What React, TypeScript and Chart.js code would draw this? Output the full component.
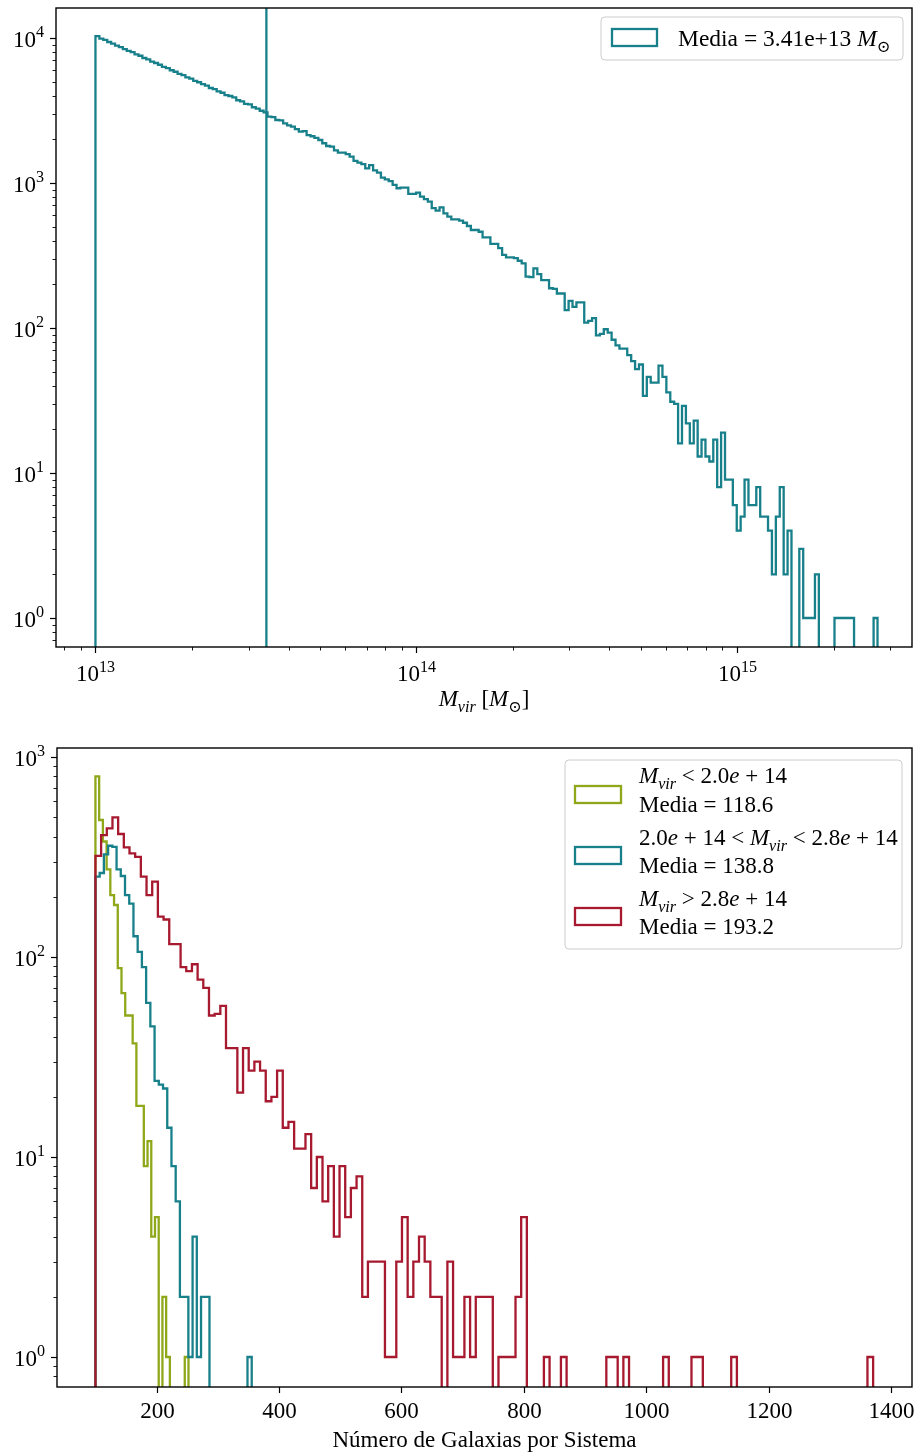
import React, { useEffect, useRef } from 'react';
import { Chart, registerables } from 'chart.js';

Chart.register(...registerables);

const FONT = '"Liberation Serif", "DejaVu Serif", "Times New Roman", serif';
const FS = 23;

const TEAL = '#17808a';
const GREEN = '#8fa81a';
const RED = '#a7192f';

// ---------------- top panel: virial mass histogram ----------------
const massLogMin = 13.0;
const massLogMax = 15.4375;
const massCounts = [
  10310, 9900, 9700, 9380, 9150, 8850, 8660, 8380, 8150, 7980,
  7700, 7540, 7280, 7130, 6880, 6720, 6540, 6330, 6200, 5990,
  5850, 5660, 5540, 5350, 5240, 5060, 4950, 4800, 4700, 4520,
  4440, 4280, 4190, 4040, 3980, 3900, 3720, 3650, 3510, 3490,
  3330, 3260, 3150, 3070, 2870, 2850, 2720, 2700, 2580, 2500,
  2450, 2350, 2260, 2280, 2140, 2100, 2050, 1980, 1880, 1800,
  1780, 1680, 1620, 1620, 1580, 1520, 1420, 1380, 1350, 1260,
  1330, 1220, 1180, 1090, 1060, 1030, 970, 920, 930, 930,
  840, 840, 857, 805, 773, 743, 670, 645, 680, 618,
  586, 562, 562, 550, 532, 505, 474, 474, 461, 422,
  422, 380, 380, 355, 319, 307, 307, 303, 291, 279,
  226, 224, 258, 235, 214, 214, 188, 186, 173, 173,
  133, 154, 140, 150, 150, 109, 112, 117, 89, 91,
  98, 93, 83, 76, 72, 72, 65, 59, 52, 56,
  34, 46, 42, 42, 55, 46, 36, 31, 30, 16,
  29, 22, 16, 23, 13, 17, 13, 12, 17, 8,
  19, 9, 9, 6, 4, 5, 9, 6, 6, 8,
  5, 5, 4, 2, 5, 8, 2, 4, 0, 0,
  3, 1, 1, 1, 2, 0, 0, 0, 0, 1,
  1, 1, 1, 1, 0, 0, 0, 0, 0, 1,
];
const meanMass = 3.41e13;
const meanText = 'Media = 3.41e+13 ';
const massAxisLog = [12.877, 15.545];
const topCountRange = [0.631, 16100];

// ---------------- bottom panel: galaxies per system ----------------
const galMin = 100;
const greenMax = 252.0;
const tealMax = 355.3;
const redMax = 1370.5;
const greenCounts = [800, 484, 378, 274, 204, 182, 88, 66, 51, 51, 37, 18, 18, 9, 12, 4, 5, 0, 2, 1, 0, 0, 0, 0, 1];
const tealCounts = [
  252, 263, 326, 360, 355, 274, 254, 204, 185, 127,
  106, 89, 59, 45, 24, 23, 22, 14, 9, 6,
  2, 2, 1, 4, 1, 2, 2, 0, 0, 0,
  0, 0, 0, 0, 0, 0, 1,
];
const redCounts = [
  320, 407, 440, 499, 412, 353, 330, 317, 252, 204,
  238, 159, 154, 116, 116, 89, 85, 92, 77, 70,
  51, 52, 57, 35, 35, 21, 35, 27, 30, 27,
  19, 20, 27, 14, 15, 11, 11, 13, 7, 10,
  6, 9, 4, 9, 5, 7, 8, 2, 3, 3,
  3, 1, 1, 3, 5, 2, 3, 4, 3, 2,
  2, 0, 3, 1, 1, 2, 1, 2, 2, 2,
  0, 1, 1, 1, 2, 5, 0, 0, 0, 1,
  0, 0, 1, 0, 0, 0, 0, 0, 0, 0,
  1, 1, 0, 1, 0, 0, 0, 0, 0, 0,
  1, 0, 0, 0, 0, 1, 1, 0, 0, 0,
  0, 0, 1, 0, 0, 0, 0, 0, 0, 0,
  0, 0, 0, 0, 0, 0, 0, 0, 0, 0,
  0, 0, 0, 0, 0, 0, 1,
];
const greenLabel = ['< 2.0', '118.6'];
const tealLabel = ['2.0', '< 2.8', '138.8'];
const redLabel = ['> 2.8', '193.2'];
const galTicks = [200, 400, 600, 800, 1000, 1200, 1400];
const galAxisRange = [37.2, 1434];
const bottomCountRange = [0.708, 1109];

// ---------------- helpers ----------------
type Seg = { t: string; it?: boolean; sub?: boolean; sup?: boolean };

function fontFor(size: number, it?: boolean) {
  return `${it ? 'italic ' : ''}${size}px ${FONT}`;
}

function drawRich(ctx: CanvasRenderingContext2D, segs: Seg[], x: number, y: number, align: 'left' | 'center' | 'right', size = FS) {
  const sizes = segs.map((s) => (s.sub || s.sup ? size * 0.7 : size));
  const widths = segs.map((s, i) => {
    ctx.font = fontFor(sizes[i], s.it);
    return ctx.measureText(s.t).width;
  });
  const total = widths.reduce((a, b) => a + b, 0);
  let cx = align === 'left' ? x : align === 'center' ? x - total / 2 : x - total;
  ctx.textAlign = 'left';
  ctx.textBaseline = 'alphabetic';
  ctx.fillStyle = '#000';
  segs.forEach((s, i) => {
    ctx.font = fontFor(sizes[i], s.it);
    const dy = s.sub ? size * 0.24 : s.sup ? -size * 0.4 : 0;
    ctx.fillText(s.t, cx, y + dy);
    cx += widths[i];
  });
}

function logTicks(min: number, max: number) {
  const out: { v: number; major: boolean; e: number }[] = [];
  for (let e = Math.floor(Math.log10(min)) - 1; e <= Math.ceil(Math.log10(max)); e++) {
    for (let m = 1; m <= 9; m++) {
      const v = m * Math.pow(10, e);
      if (v >= min * 0.99999 && v <= max * 1.00001) out.push({ v, major: m === 1, e });
    }
  }
  return out;
}

function seg(ctx: CanvasRenderingContext2D, x1: number, y1: number, x2: number, y2: number) {
  ctx.beginPath();
  ctx.moveTo(x1, y1);
  ctx.lineTo(x2, y2);
  ctx.stroke();
}

function roundBox(ctx: CanvasRenderingContext2D, x: number, y: number, w: number, h: number, r: number) {
  ctx.beginPath();
  ctx.moveTo(x + r, y);
  ctx.lineTo(x + w - r, y);
  ctx.arcTo(x + w, y, x + w, y + r, r);
  ctx.lineTo(x + w, y + h - r);
  ctx.arcTo(x + w, y + h, x + w - r, y + h, r);
  ctx.lineTo(x + r, y + h);
  ctx.arcTo(x, y + h, x, y + h - r, r);
  ctx.lineTo(x, y + r);
  ctx.arcTo(x, y, x + r, y, r);
  ctx.closePath();
  ctx.fillStyle = 'rgba(255,255,255,0.85)';
  ctx.fill();
  ctx.strokeStyle = '#cccccc';
  ctx.lineWidth = 1;
  ctx.stroke();
}

function linEdges(lo: number, hi: number, n: number) {
  return Array.from({ length: n + 1 }, (_, k) => lo + ((hi - lo) * k) / n);
}
function logEdges(lo: number, hi: number, n: number) {
  return Array.from({ length: n + 1 }, (_, k) => Math.pow(10, lo + ((hi - lo) * k) / n));
}

const FLOOR = 1e-3;
function stepPoints(edges: number[], counts: number[]) {
  const pts = [{ x: edges[0], y: FLOOR }];
  counts.forEach((c, i) => pts.push({ x: edges[i], y: c > 0 ? c : FLOOR }));
  const last = counts[counts.length - 1];
  pts.push({ x: edges[edges.length - 1], y: last > 0 ? last : FLOOR });
  pts.push({ x: edges[edges.length - 1], y: FLOOR });
  return pts;
}

const LINE_W = 2.3;

function histDataset(pts: { x: number; y: number }[], color: string) {
  return {
    data: pts,
    borderColor: color,
    borderWidth: LINE_W,
    pointRadius: 0,
    pointHoverRadius: 0,
    fill: false,
    stepped: true,
    tension: 0,
    borderJoinStyle: 'miter',
    borderCapStyle: 'butt',
  };
}

function drawYLogAxis(ctx: CanvasRenderingContext2D, chart: any) {
  const ys = chart.scales.y;
  const a = chart.chartArea;
  ctx.strokeStyle = '#000';
  for (const t of logTicks(ys.min, ys.max)) {
    const py = Math.round(ys.getPixelForValue(t.v)) + 0.5;
    ctx.lineWidth = t.major ? 1.2 : 0.9;
    seg(ctx, a.left - (t.major ? 6 : 3.5), py, a.left, py);
    if (t.major) drawRich(ctx, [{ t: '10' }, { t: String(t.e), sup: true }], a.left - 12, py + 8, 'right');
  }
}

function drawFrame(ctx: CanvasRenderingContext2D, a: any) {
  ctx.strokeStyle = '#000';
  ctx.lineWidth = 1.4;
  ctx.strokeRect(a.left, a.top, a.right - a.left, a.bottom - a.top);
}

const topDecor = {
  id: 'topDecor',
  afterDraw(chart: any) {
    const ctx: CanvasRenderingContext2D = chart.ctx;
    const xs = chart.scales.x;
    const a = chart.chartArea;
    ctx.save();
    drawYLogAxis(ctx, chart);
    ctx.strokeStyle = '#000';
    for (const t of logTicks(xs.min, xs.max)) {
      const px = Math.round(xs.getPixelForValue(t.v)) + 0.5;
      ctx.lineWidth = t.major ? 1.2 : 0.9;
      seg(ctx, px, a.bottom, px, a.bottom + (t.major ? 6 : 3.5));
      if (t.major) drawRich(ctx, [{ t: '10' }, { t: String(t.e), sup: true }], px, a.bottom + 34, 'center');
    }
    drawFrame(ctx, a);
    drawRich(
      ctx,
      [{ t: 'M', it: true }, { t: 'vir', it: true, sub: true }, { t: ' [' }, { t: 'M', it: true }, { t: '⊙', sub: true }, { t: ']' }],
      (a.left + a.right) / 2,
      706,
      'center'
    );
    // legend
    roundBox(ctx, 601, 17, 302, 43, 4);
    ctx.strokeStyle = TEAL;
    ctx.lineWidth = LINE_W;
    ctx.strokeRect(612, 29, 45, 17);
    drawRich(ctx, [{ t: meanText }, { t: 'M', it: true }, { t: '⊙', sub: true }], 678, 46, 'left', 23.5);
    ctx.restore();
  },
};

const BOT_OFF = 728;
const bottomDecor = {
  id: 'bottomDecor',
  afterDraw(chart: any) {
    const ctx: CanvasRenderingContext2D = chart.ctx;
    const xs = chart.scales.x;
    const a = chart.chartArea;
    ctx.save();
    drawYLogAxis(ctx, chart);
    ctx.strokeStyle = '#000';
    ctx.lineWidth = 1.2;
    for (const v of galTicks) {
      const px = Math.round(xs.getPixelForValue(v)) + 0.5;
      seg(ctx, px, a.bottom, px, a.bottom + 6);
      ctx.font = fontFor(FS);
      ctx.fillStyle = '#000';
      ctx.textAlign = 'center';
      ctx.textBaseline = 'alphabetic';
      ctx.fillText(String(v), px, 1418 - BOT_OFF);
    }
    drawFrame(ctx, a);
    ctx.font = fontFor(FS);
    ctx.textAlign = 'center';
    ctx.fillText('Número de Galaxias por Sistema', (a.left + a.right) / 2, 1447 - BOT_OFF);
    // legend
    roundBox(ctx, 565, 760 - BOT_OFF, 337, 189, 4);
    const patch = (c: string, y: number) => {
      ctx.strokeStyle = c;
      ctx.lineWidth = LINE_W;
      ctx.strokeRect(575, y - BOT_OFF, 46, 17);
    };
    patch(GREEN, 786);
    patch(TEAL, 847);
    patch(RED, 908);
    const M: Seg[] = [{ t: 'M', it: true }, { t: 'vir', it: true, sub: true }];
    drawRich(ctx, [...M, { t: ' ' + greenLabel[0] }, { t: 'e', it: true }, { t: ' + 14' }], 639, 783 - BOT_OFF, 'left');
    drawRich(ctx, [{ t: 'Media = ' + greenLabel[1] }], 639, 812 - BOT_OFF, 'left');
    drawRich(
      ctx,
      [{ t: tealLabel[0] }, { t: 'e', it: true }, { t: ' + 14 < ' }, ...M, { t: ' ' + tealLabel[1] }, { t: 'e', it: true }, { t: ' + 14' }],
      639,
      845 - BOT_OFF,
      'left'
    );
    drawRich(ctx, [{ t: 'Media = ' + tealLabel[2] }], 639, 873 - BOT_OFF, 'left');
    drawRich(ctx, [...M, { t: ' ' + redLabel[0] }, { t: 'e', it: true }, { t: ' + 14' }], 639, 906 - BOT_OFF, 'left');
    drawRich(ctx, [{ t: 'Media = ' + redLabel[1] }], 639, 934 - BOT_OFF, 'left');
    ctx.restore();
  },
};

function commonOptions(xType: string, xMin: number, xMax: number, yMin: number, yMax: number, padding: any) {
  return {
    responsive: false,
    animation: false,
    devicePixelRatio: 1,
    events: [],
    layout: { padding },
    plugins: { legend: { display: false }, tooltip: { enabled: false }, title: { display: false } },
    scales: {
      x: { type: xType, min: xMin, max: xMax, display: false, bounds: 'data' },
      y: { type: 'logarithmic', min: yMin, max: yMax, display: false, bounds: 'data' },
    },
  };
}

function topConfig(): any {
  const edges = logEdges(massLogMin, massLogMax, massCounts.length);
  return {
    type: 'line',
    data: {
      datasets: [
        histDataset(stepPoints(edges, massCounts), TEAL),
        {
          data: [
            { x: meanMass, y: FLOOR },
            { x: meanMass, y: 1e7 },
          ],
          borderColor: TEAL,
          borderWidth: LINE_W,
          pointRadius: 0,
          fill: false,
        },
      ],
    },
    options: commonOptions(
      'logarithmic',
      Math.pow(10, massAxisLog[0]),
      Math.pow(10, massAxisLog[1]),
      topCountRange[0],
      topCountRange[1],
      { left: 56, right: 2, top: 8, bottom: 81 }
    ),
    plugins: [topDecor],
  };
}

function bottomConfig(): any {
  return {
    type: 'line',
    data: {
      datasets: [
        histDataset(stepPoints(linEdges(galMin, redMax, redCounts.length), redCounts), RED),
        histDataset(stepPoints(linEdges(galMin, tealMax, tealCounts.length), tealCounts), TEAL),
        histDataset(stepPoints(linEdges(galMin, greenMax, greenCounts.length), greenCounts), GREEN),
      ],
    },
    options: commonOptions('linear', galAxisRange[0], galAxisRange[1], bottomCountRange[0], bottomCountRange[1], {
      left: 57,
      right: 2,
      top: 20,
      bottom: 69,
    }),
    plugins: [bottomDecor],
  };
}

function ChartCanvas({ make, width, height }: { make: () => any; width: number; height: number }) {
  const ref = useRef<HTMLCanvasElement>(null);
  useEffect(() => {
    const chart = new Chart(ref.current as HTMLCanvasElement, make());
    return () => chart.destroy();
  }, []);
  return <canvas ref={ref} width={width} height={height} style={{ display: 'block', width, height }} />;
}

export default function App() {
  return (
    <div style={{ position: 'absolute', left: 0, top: 0, width: 914, height: 1456, background: '#fff' }}>
      <ChartCanvas make={topConfig} width={914} height={728} />
      <ChartCanvas make={bottomConfig} width={914} height={728} />
    </div>
  );
}
